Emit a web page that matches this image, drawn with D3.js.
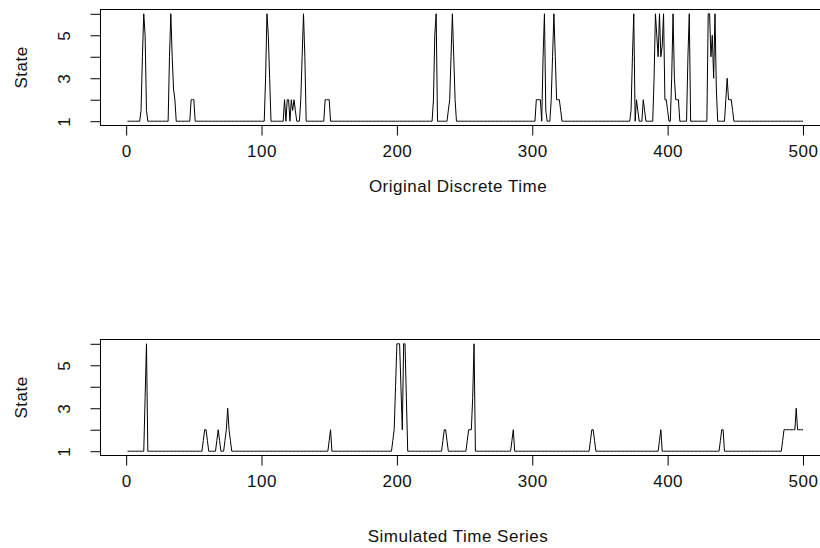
<!DOCTYPE html>
<html>
<head>
<meta charset="utf-8">
<script src="https://cdn.jsdelivr.net/npm/d3@7"></script>
<style>
  body { margin: 0; background: #fff; }
  text { font-family: Arial, "Liberation Sans", sans-serif; font-size: 17px; fill: #111; letter-spacing: 0.5px; }
</style>
</head>
<body>
<div id="chart"></div>
<script>
// time runs 1..500, the state is 1 except at the [time, state] points listed
var timeStart = 1, timeEnd = 500;
var xTicks = [0, 100, 200, 300, 400, 500];
var yTicks = [1, 2, 3, 4, 5, 6];
var yLabels = [1, 3, 5];
var baseState = 1;

var origSpikes = [
  [11,1.5],[12,4],[13,6],[14,5],[15,1.5],
  [32,4],[33,6],[34,4],[35,2.5],[36,2],
  [48,2],[49,2],[50,2],
  [103,3],[104,6],[105,5],[106,3],
  [117,2],[119,2],[120,2],[122,2],[123,1.5],[124,2],[125,1.5],
  [129,2],[130,4],[131,6],[132,4],
  [147,2],[148,2],[149,2],[150,2],
  [227,2],[228,5],[229,6],
  [238,1.5],[239,2],[240,4],[241,6],[242,4],[243,2],
  [303,2],[304,2],[305,2],[306,2],[308,4],[309,6],[310,1.5],
  [314,2],[315,4],[316,6],[317,4],[318,2],[319,2],[320,2],[321,1.5],
  [373,1.5],[374,4],[375,6],[377,2],[378,1.5],
  [382,2],[383,1.5],
  [390,3],[391,6],[392,5],[393,4],[394,6],[395,4],[396,4.5],[397,6],[398,2],[399,2],[400,1.5],
  [403,3],[404,6],[405,3],[406,2],[407,2],[408,2],
  [415,4],[416,6],
  [430,6],[431,6],[432,4],[433,5],[434,3],[435,6],[436,2.5],
  [443,2],[444,3],[445,2],[446,2],[447,2],[448,1.5]
];

var simSpikes = [
  [14,3.5],[15,6],
  [57,1.5],[58,2],[59,2],[60,1.5],
  [67,1.5],[68,2],[69,1.5],
  [73,1.5],[74,2],[75,3],[76,2],[77,1.5],
  [150,1.5],[151,2],
  [197,1.5],[198,2],[199,4],[200,6],[201,6],[202,6],[203,4],[204,2],[205,6],[206,6],[207,3.5],
  [234,1.5],[235,2],[236,2],[237,1.5],
  [252,1.5],[253,2],[254,2],[255,2],[256,3.5],[257,6],
  [285,1.5],[286,2],
  [343,1.5],[344,2],[345,2],[346,1.5],
  [394,1.5],[395,2],
  [439,1.5],[440,2],[441,2],
  [485,1.5],[486,2],[487,2],[488,2],[489,2],[490,2],[491,2],[492,2],[493,2],[494,2],
  [495,3],[496,2],[497,2],[498,2],[499,2],[500,2]
];

var panelTitles = ["Original Discrete Time", "Simulated Time Series"];
var yTitle = "State";

var svg = d3.select("#chart")
  .append("svg")
  .attr("width", 820)
  .attr("height", 548);

// R style: 4% padding on both axes
var x = d3.scaleLinear()
  .domain([-18.96, 519.96])
  .range([100.5, 830]);

function buildSeries(spikes) {
  var m = new Map(spikes);
  return d3.range(timeStart, timeEnd + 1).map(function(t) {
    return {t: t, s: m.has(t) ? m.get(t) : baseState};
  });
}

function drawPanel(top, spikes, title, titleY) {
  var bottom = top + 116;
  var y = d3.scaleLinear()
    .domain([0.8, 6.2])
    .range([bottom, top]);

  var g = svg.append("g");

  // plot box
  g.append("rect")
    .attr("x", x.range()[0])
    .attr("y", top)
    .attr("width", x.range()[1] - x.range()[0])
    .attr("height", bottom - top)
    .attr("fill", "none")
    .attr("stroke", "#000");

  // x axis
  var xa = g.append("g")
    .attr("transform", "translate(0," + bottom + ")")
    .call(d3.axisBottom(x).tickValues(xTicks).tickSize(10).tickPadding(21).tickFormat(d3.format("d")));
  xa.select(".domain").remove();
  xa.selectAll("line").attr("stroke", "#000");
  xa.selectAll("text").attr("font-size", null).attr("font-family", null).attr("dy", 0);

  // y axis, labels rotated like R
  var ya = g.append("g")
    .attr("transform", "translate(" + x.range()[0] + ",0)")
    .call(d3.axisLeft(y).tickValues(yTicks).tickSize(10)
      .tickFormat(function(d) { return yLabels.indexOf(d) >= 0 ? d : ""; }));
  ya.select(".domain").remove();
  ya.selectAll("line").attr("stroke", "#000");
  ya.selectAll("text")
    .attr("font-size", null).attr("font-family", null)
    .attr("x", null).attr("dy", null)
    .attr("text-anchor", "middle")
    .attr("transform", "translate(-31,0) rotate(-90)");

  // series
  var line = d3.line()
    .x(function(d) { return x(d.t); })
    .y(function(d) { return y(d.s); });
  g.append("path")
    .datum(buildSeries(spikes))
    .attr("d", line)
    .attr("fill", "none")
    .attr("stroke", "#000")
    .attr("stroke-width", 1);

  // axis titles
  g.append("text")
    .attr("x", 458)
    .attr("y", titleY)
    .attr("text-anchor", "middle")
    .text(title);
  g.append("text")
    .attr("transform", "translate(27," + ((top + bottom) / 2) + ") rotate(-90)")
    .attr("text-anchor", "middle")
    .text(yTitle);
}

drawPanel(9.5, origSpikes, panelTitles[0], 192);
drawPanel(339.5, simSpikes, panelTitles[1], 542);
</script>
</body>
</html>
